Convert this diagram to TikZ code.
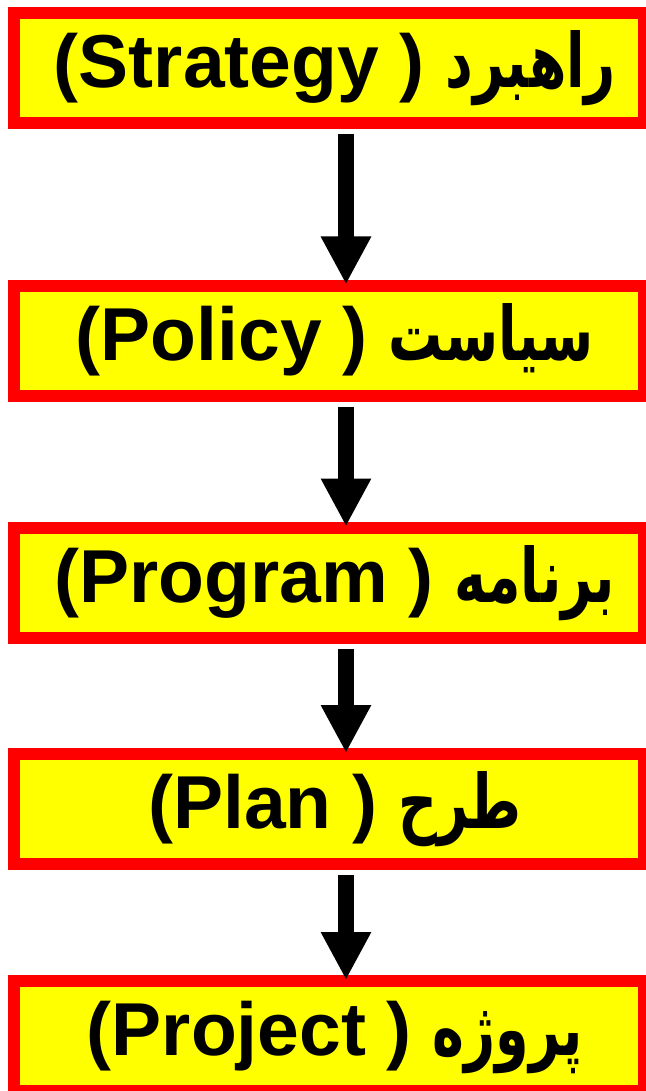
\documentclass[tikz,border=0pt]{standalone}
\usepackage{fontspec}
\setmainfont{Liberation Sans}
\newfontfamily\fafont[Script=Arabic,FakeStretch=0.72]{DejaVu Sans}
\TeXXeTstate=1
\usetikzlibrary{arrows.meta}
\definecolor{boxred}{RGB}{255,0,0}
\definecolor{boxyellow}{RGB}{255,255,0}
\begin{document}
\begin{tikzpicture}[x=1pt,y=-1pt,
  box/.style={draw=boxred, fill=boxyellow, line width=12pt, minimum width=630pt, minimum height=110pt, inner sep=0pt, outer sep=6pt},
  lbl/.style={anchor=base, font=\bfseries\fontsize{75}{80}\selectfont, inner sep=0pt},
  arr/.style={line width=16pt, -{Triangle[width=47pt,length=48pt]}, shorten <=5pt, shorten >=-5pt}]
\useasboundingbox (0,0) rectangle (645,1091);
\node[box] (b1) at (329,68) {};
\node[box] (b2) at (329,340.5) {};
\node[box] (b3) at (329,582.5) {};
\node[box] (b4) at (329,809) {};
\node[box] (b5) at (329,1036) {};
\node[lbl] (t1) at ([xshift=6pt,yshift=-19.5pt]b1.center) {(Strategy ) {\fafont\beginR راهبرد\endR}};
\node[lbl] (t2) at ([xshift=6pt,yshift=-19.5pt]b2.center) {(Policy ) {\fafont\beginR سیاست\endR}};
\node[lbl] (t3) at ([xshift=6pt,yshift=-19.5pt]b3.center) {(Program ) {\fafont\beginR برنامه\endR}};
\node[lbl] (t4) at ([xshift=6pt,yshift=-19.5pt]b4.center) {(Plan ) {\fafont\beginR طرح\endR}};
\node[lbl] (t5) at ([xshift=6pt,yshift=-19.5pt]b5.center) {(Project ) {\fafont\beginR پروژه\endR}};
\draw[arr] ([xshift=17pt]b1.south) -- ([xshift=17pt]b2.north);
\draw[arr] ([xshift=17pt]b2.south) -- ([xshift=17pt]b3.north);
\draw[arr] ([xshift=17pt]b3.south) -- ([xshift=17pt]b4.north);
\draw[arr] ([xshift=17pt]b4.south) -- ([xshift=17pt]b5.north);
\end{tikzpicture}
\end{document}
